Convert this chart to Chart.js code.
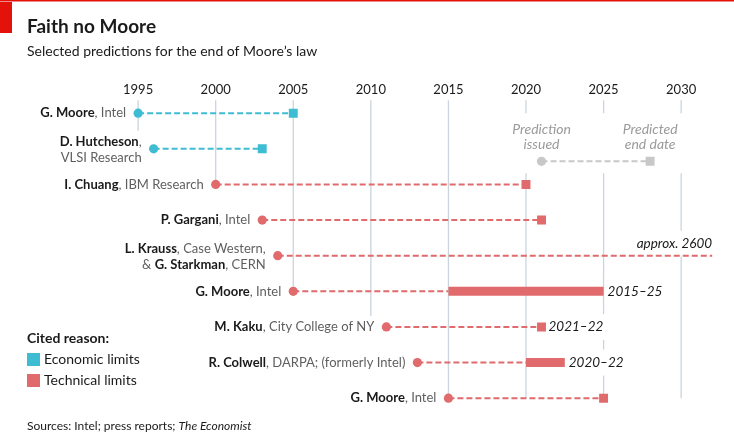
<!DOCTYPE html>
<html>
<head>
<meta charset="utf-8">
<script src="https://cdn.jsdelivr.net/npm/chart.js@4.4.1/dist/chart.umd.min.js"></script>
<style>
  html, body { margin: 0; padding: 0; background: #fff; }
  canvas { display: block; }
</style>
</head>
<body>
<canvas id="grafica" width="734" height="433"></canvas>
<script>
// Años del eje superior
const yearTicks = [1995, 2000, 2005, 2010, 2015, 2020, 2025, 2030];

// Una fila por predicción, de arriba a abajo
const labelLines = [
  [[['G. Moore', true], [', Intel', false]]],
  [[['D. Hutcheson', true], [',', false]], [['VLSI Research', false]]],
  [[['I. Chuang', true], [', IBM Research', false]]],
  [[['P. Gargani', true], [', Intel', false]]],
  [[['L. Krauss', true], [', Case Western,', false]], [['& ', false], ['G. Starkman', true], [', CERN', false]]],
  [[['G. Moore', true], [', Intel', false]]],
  [[['M. Kaku', true], [', City College of NY', false]]],
  [[['R. Colwell', true], [', DARPA; (formerly Intel)', false]]],
  [[['G. Moore', true], [', Intel', false]]]
];
const issued   = [1995, 1996, 2000, 2003, 2004, 2005, 2011, 2013, 2015];
const endStart = [2005, 2003, 2020, 2021, 2032, 2015, 2021, 2020, 2025];
const endStop  = [2005, 2003, 2020, 2021, null, 2025, 2021, 2022.5, 2025];
const reason   = ['econ', 'econ', 'tech', 'tech', 'tech', 'tech', 'tech', 'tech', 'tech'];
const rangeText = ['', '', '', '', 'approx. 2600', '2015–25', '2021–22', '2020–22', ''];

// Leyenda de ejemplo (gris)
const keyIssued = 2021;
const keyEnd = 2028;
const keyRow = 1.35;

const COLORS = { econ: '#3ebcd2', tech: '#e06a6c', key: '#c8c8c8' };
const GRID = '#cad4de';
const FONT = 'Lato, "Open Sans", sans-serif';
const f = (weight, size, style) => `${style || 'normal'} ${weight} ${size}px ${FONT}`;

const rows = issued.map((_, i) => i);

// datasets
const datasets = [];
['econ', 'tech'].forEach(r => {
  datasets.push({
    data: rows.filter(i => reason[i] === r).map(i => ({ x: issued[i], y: i })),
    pointStyle: 'circle', pointRadius: 4.6, backgroundColor: COLORS[r], borderWidth: 0, order: 0
  });
  datasets.push({
    data: rows.filter(i => reason[i] === r && endStop[i] !== null && endStop[i] === endStart[i])
              .map(i => ({ x: endStart[i], y: i })),
    pointStyle: 'rect', pointRadius: 6.3, backgroundColor: COLORS[r], borderWidth: 0, order: 0
  });
});
rows.forEach(i => {
  datasets.push({
    data: [{ x: issued[i], y: i }, { x: endStart[i], y: i }],
    showLine: true, borderColor: COLORS[reason[i]], borderWidth: 2, borderDash: [6, 3],
    pointRadius: 0, order: 2
  });
  if (endStop[i] !== null && endStop[i] > endStart[i]) {
    datasets.push({
      data: [{ x: endStart[i], y: i }, { x: endStop[i], y: i }],
      showLine: true, borderColor: COLORS[reason[i]], borderWidth: 9, borderCapStyle: 'butt',
      pointRadius: 0, order: 1
    });
  }
});
datasets.push({
  data: [{ x: keyIssued, y: keyRow }, { x: keyEnd, y: keyRow }],
  showLine: true, borderColor: COLORS.key, borderWidth: 2, borderDash: [6, 3], pointRadius: 0, order: 2
});
datasets.push({ data: [{ x: keyIssued, y: keyRow }], pointStyle: 'circle', pointRadius: 4.6,
  backgroundColor: COLORS.key, borderWidth: 0, order: 0 });
datasets.push({ data: [{ x: keyEnd, y: keyRow }], pointStyle: 'rect', pointRadius: 6.3,
  backgroundColor: COLORS.key, borderWidth: 0, order: 0 });

function lineWidth(ctx, line) {
  let w = 0;
  line.forEach(([t, b]) => { ctx.font = f(b ? 700 : 400, 13); w += ctx.measureText(t).width; });
  return w;
}
function lineOffsets(n) { return n === 1 ? [0] : [-7, 9]; }

const dibujo = {
  id: 'dibujo',
  beforeDatasetsDraw(chart) {
    const { ctx } = chart;
    const xs = chart.scales.x, ys = chart.scales.y;
    ctx.save();

    // cajas de etiquetas de la izquierda
    const boxes = rows.map(i => {
      const right = xs.getPixelForValue(issued[i]) - 12;
      const widths = labelLines[i].map(l => lineWidth(ctx, l));
      const offs = lineOffsets(labelLines[i].length);
      return { right, left: right - Math.max(...widths), top: ys.getPixelForValue(i) + offs[0] - 8, widths, offs };
    });

    // rejilla vertical: se corta en la primera etiqueta que la cruza
    // (o en el círculo si una predicción empieza justo en ese año)
    const gridTop = ys.getPixelForValue(0) - 13;
    const gridBottom = ys.getPixelForValue(rows.length - 1);
    ctx.strokeStyle = GRID;
    ctx.lineWidth = 1.3;
    yearTicks.forEach(t => {
      const tx = xs.getPixelForValue(t);
      let end = gridBottom;
      for (let i = 0; i < boxes.length; i++) {
        const b = boxes[i];
        if (tx >= b.left - 3 && tx <= b.right + 3) { end = b.top - 3; break; }
        if (i > 0 && issued[i] === t) { end = ys.getPixelForValue(i); break; }
      }
      ctx.beginPath();
      ctx.moveTo(tx, gridTop);
      ctx.lineTo(tx, end);
      ctx.stroke();
    });

    // etiquetas de años
    ctx.fillStyle = '#1a1a1a';
    ctx.font = f(400, 13);
    ctx.textAlign = 'center';
    ctx.textBaseline = 'alphabetic';
    yearTicks.forEach(t => ctx.fillText(String(t), xs.getPixelForValue(t), 94));

    // anotaciones a la derecha (con fondo blanco que tapa la rejilla)
    ctx.textBaseline = 'middle';
    ctx.font = f(400, 13.5, 'italic');
    rows.forEach(i => {
      if (!rangeText[i]) return;
      const y = ys.getPixelForValue(i);
      const w = ctx.measureText(rangeText[i]).width;
      let x, ty;
      if (endStop[i] === null) {
        x = xs.getPixelForValue(endStart[i]) - w;
        ty = y - 12;
      } else if (endStop[i] > endStart[i]) {
        x = xs.getPixelForValue(endStop[i]) + 4;
        ty = y;
      } else {
        x = xs.getPixelForValue(endStop[i]) + 7;
        ty = y;
      }
      ctx.fillStyle = '#fff';
      ctx.fillRect(x - 3, ty - 13, w + 6, 26);
      ctx.fillStyle = '#1a1a1a';
      ctx.textAlign = 'left';
      ctx.fillText(rangeText[i], x, ty);
    });

    // leyenda gris "Prediction issued" / "Predicted end date"
    const ky = ys.getPixelForValue(keyRow);
    const kx1 = xs.getPixelForValue(keyIssued), kx2 = xs.getPixelForValue(keyEnd);
    const keyTexts = [[kx1, ['Prediction', 'issued']], [kx2, ['Predicted', 'end date']]];
    ctx.font = f(400, 14, 'italic');
    let kl = Infinity, kr = -Infinity;
    keyTexts.forEach(([x, ls]) => ls.forEach(s => {
      const w = ctx.measureText(s).width;
      kl = Math.min(kl, x - w / 2); kr = Math.max(kr, x + w / 2);
    }));
    ctx.fillStyle = '#fff';
    ctx.fillRect(kl - 14, ky - 48, kr - kl + 28, 60);
    ctx.fillStyle = '#9a9a9a';
    ctx.textAlign = 'center';
    keyTexts.forEach(([x, ls]) => ls.forEach((s, j) => ctx.fillText(s, x, ky - 32 + j * 15)));

    // etiquetas de la izquierda
    rows.forEach(i => {
      const b = boxes[i];
      const y = ys.getPixelForValue(i);
      labelLines[i].forEach((line, j) => {
        let x = b.right - b.widths[j];
        line.forEach(([t, bold]) => {
          ctx.font = f(bold ? 700 : 400, 13);
          ctx.fillStyle = bold ? '#1a1a1a' : '#5f5f5f';
          ctx.textAlign = 'left';
          ctx.fillText(t, x, y + b.offs[j]);
          x += ctx.measureText(t).width;
        });
      });
    });

    // título y subtítulo
    ctx.textBaseline = 'alphabetic';
    ctx.textAlign = 'left';
    ctx.fillStyle = '#e3120b';
    ctx.fillRect(0, 0, chart.width, 1.5);
    ctx.fillRect(0, 2, 12, 31);
    ctx.fillStyle = '#1a1a1a';
    ctx.font = f(700, 19);
    ctx.fillText('Faith no Moore', 27, 33);
    ctx.font = f(400, 14);
    ctx.fillText('Selected predictions for the end of Moore’s law', 27, 56);

    // leyenda "Cited reason"
    ctx.font = f(700, 14);
    ctx.fillText('Cited reason:', 27, 343);
    [['econ', 'Economic limits', 353], ['tech', 'Technical limits', 374]].forEach(([r, t, y]) => {
      ctx.fillStyle = COLORS[r];
      ctx.fillRect(27, y, 13, 13);
      ctx.fillStyle = '#1a1a1a';
      ctx.font = f(400, 14);
      ctx.fillText(t, 44, y + 11);
    });

    // fuentes
    ctx.font = f(400, 12);
    const s1 = 'Sources: Intel; press reports; ';
    ctx.fillText(s1, 27, 430);
    const w1 = ctx.measureText(s1).width;
    ctx.font = f(400, 12, 'italic');
    ctx.fillText('The Economist', 27 + w1, 430);

    ctx.restore();
  }
};

new Chart(document.getElementById('grafica').getContext('2d'), {
  type: 'scatter',
  data: { datasets },
  options: {
    responsive: false,
    animation: false,
    events: [],
    layout: { padding: { left: 14, right: 5, top: 2, bottom: 1 } },
    scales: {
      x: { type: 'linear', min: 1987, max: 2033, display: false },
      y: { type: 'linear', min: -3, max: 8.8, reverse: true, display: false }
    },
    plugins: { legend: { display: false }, tooltip: { enabled: false } }
  },
  plugins: [dibujo]
});
</script>
</body>
</html>
